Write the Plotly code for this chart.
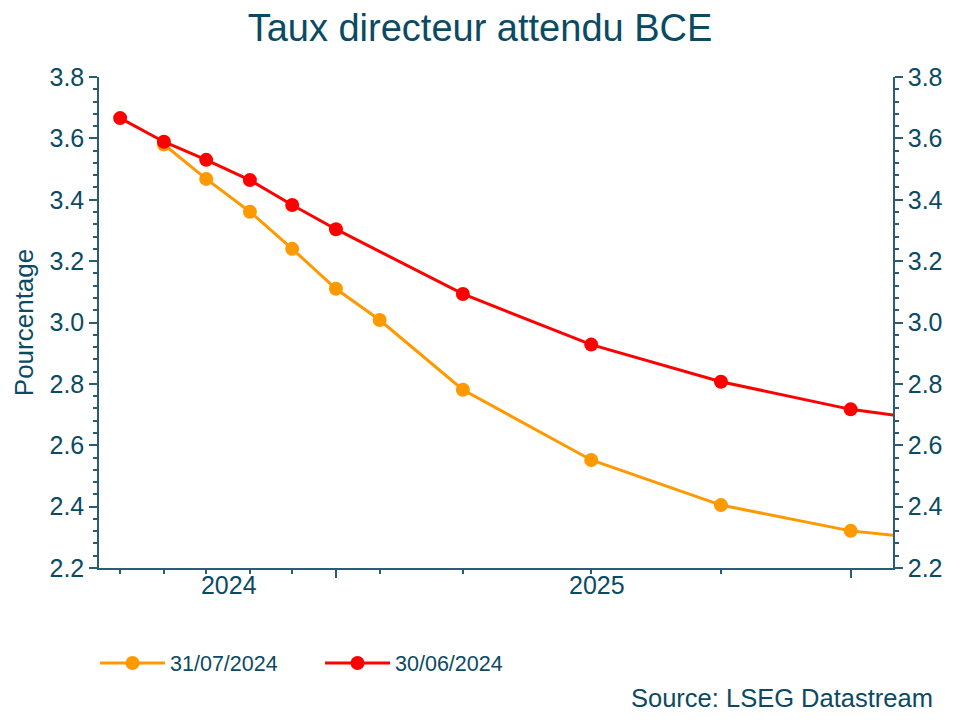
import plotly.graph_objects as go

# Data
dates_jul = ["2024-09-01", "2024-10-01", "2024-11-01", "2024-12-01", "2025-01-01",
             "2025-02-01", "2025-04-01", "2025-07-01", "2025-10-01", "2026-01-01", "2026-04-01"]
rate_jul = [3.580, 3.468, 3.361, 3.240, 3.110, 3.008, 2.781, 2.552, 2.405, 2.321, 2.279]

dates_jun = ["2024-08-01", "2024-09-01", "2024-10-01", "2024-11-01", "2024-12-01", "2025-01-01",
             "2025-04-01", "2025-07-01", "2025-10-01", "2026-01-01", "2026-04-01"]
rate_jun = [3.666, 3.589, 3.530, 3.464, 3.383, 3.304, 3.093, 2.928, 2.807, 2.717, 2.661]

tick_dates = ["2024-08-01", "2024-09-01", "2024-10-01", "2024-11-01", "2024-12-01", "2025-01-01",
              "2025-02-01", "2025-04-01", "2025-07-01", "2025-10-01", "2026-01-01"]
year_ticks = ["2025-01-01", "2026-01-01"]
year_label_pos = ["2024-10-17", "2025-07-05"]
year_labels = ["2024", "2025"]

TXT = "#0b4a63"
AX = "#2b5d72"
FONT = "Liberation Sans, Arial, sans-serif"
XR = ["2024-07-17", "2026-01-31"]
YR = [2.2, 3.8]

fig = go.Figure()
fig.add_trace(go.Scatter(x=dates_jul, y=rate_jul, mode="lines+markers", name="31/07/2024",
                         line=dict(color="#FF9900", width=3),
                         marker=dict(color="#FF9900", size=14)))
fig.add_trace(go.Scatter(x=dates_jun, y=rate_jun, mode="lines+markers", name="30/06/2024",
                         line=dict(color="#FF0000", width=3),
                         marker=dict(color="#FF0000", size=14)))
# invisible trace to anchor the right-hand axis
fig.add_trace(go.Scatter(x=[dates_jun[0]], y=[rate_jun[0]], xaxis="x", yaxis="y2",
                         mode="markers", marker=dict(opacity=0), showlegend=False,
                         hoverinfo="skip"))

common_y = dict(range=YR, dtick=0.2, tick0=2.2, tickformat=".1f", ticks="outside",
                ticklen=8, tickwidth=1.5, tickcolor=AX, showline=True, linecolor=AX,
                linewidth=1.5, showgrid=False, zeroline=False,
                tickfont=dict(size=25, color=TXT, family=FONT),
                minor=dict(dtick=0.04, ticks="outside", ticklen=4, tickcolor=AX, tickwidth=1.5))

fig.update_layout(
    width=952, height=712,
    paper_bgcolor="white", plot_bgcolor="white",
    margin=dict(l=91, r=67, t=69, b=152),
    font=dict(family=FONT, color=TXT),
    title=dict(text="Taux directeur attendu BCE", x=0.4958, xanchor="center", y=0.972, yanchor="middle",
               font=dict(size=38, color=TXT, family=FONT)),
    xaxis=dict(type="date", range=XR, tickvals=tick_dates, ticktext=[""] * len(tick_dates),
               ticks="outside", ticklen=4, tickwidth=1.5, tickcolor=AX, showline=True,
               linecolor=AX, linewidth=1.5, showgrid=False, zeroline=False),
    xaxis2=dict(type="date", range=XR, overlaying="x", side="bottom", tickvals=year_ticks,
                ticktext=["", ""], ticks="outside", ticklen=9, tickwidth=1.5, tickcolor=AX,
                showline=False, showgrid=False, zeroline=False),
    xaxis3=dict(type="date", range=XR, overlaying="x", side="bottom", tickvals=year_label_pos,
                ticktext=year_labels, ticks="", ticklen=0, showline=False, showgrid=False,
                zeroline=False, tickfont=dict(size=25, color=TXT, family=FONT)),
    yaxis=dict(**common_y, side="left",
               title=dict(text="Pourcentage", font=dict(size=26, color=TXT, family=FONT), standoff=8)),
    yaxis2=dict(**common_y, side="right", overlaying="y", anchor="x"),
    legend=dict(orientation="h", x=-0.005, xanchor="left", y=-0.1935, yanchor="middle",
                font=dict(size=21.5, color=TXT, family=FONT), itemwidth=65,
                entrywidth=145, entrywidthmode="pixels", bgcolor="rgba(0,0,0,0)"),
    showlegend=True,
    annotations=[dict(text="Source: LSEG Datastream", xref="paper", yref="paper",
                      x=1.0529, y=-0.2648, xanchor="right", yanchor="middle", showarrow=False,
                      font=dict(size=25.5, color=TXT, family=FONT))],
)
# dummy traces to activate overlay x axes
fig.add_trace(go.Scatter(x=[XR[0]], y=[3.0], xaxis="x2", yaxis="y", mode="markers",
                         marker=dict(opacity=0), showlegend=False, hoverinfo="skip"))
fig.add_trace(go.Scatter(x=[XR[0]], y=[3.0], xaxis="x3", yaxis="y", mode="markers",
                         marker=dict(opacity=0), showlegend=False, hoverinfo="skip"))

fig.write_html("out.html")
